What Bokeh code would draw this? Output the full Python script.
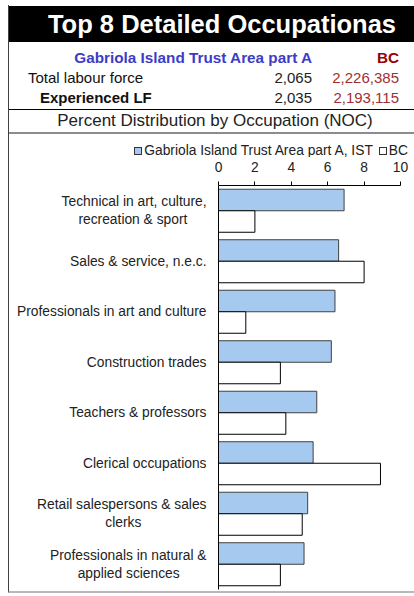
from bokeh.plotting import figure
from bokeh.models import Range1d, FactorRange, FixedTicker, ColumnDataSource, Div
from bokeh.transform import dodge
from bokeh.layouts import column
from bokeh.embed import file_html
from bokeh.resources import INLINE

# ---------------- data ----------------
title = "Top 8 Detailed Occupationas"
area_name = "Gabriola Island Trust Area part A"
bc_name = "BC"
row_labels = ["Total labour force", "Experienced LF"]
area_counts = ["2,065", "2,035"]
bc_counts = ["2,226,385", "2,193,115"]
subtitle = "Percent Distribution by Occupation (NOC)"

NB = "\u00a0"
categories = [
    "Technical in art, culture,\nrecreation & sport" + NB * 5,
    "Sales & service, n.e.c.",
    "Professionals in art and culture",
    "Construction trades",
    "Teachers & professors",
    "Clerical occupations",
    "Retail salespersons & sales\nclerks" + NB * 17,
    "Professionals in natural &\napplied sciences" + NB * 7,
]
ist_pct = [6.9, 6.6, 6.4, 6.2, 5.4, 5.2, 4.9, 4.7]
bc_pct = [2.0, 8.0, 1.5, 3.4, 3.7, 8.9, 4.6, 3.4]
x_ticks = [0, 2, 4, 6, 8, 10]
legend_labels = ["Gabriola Island Trust Area part A, IST", "BC"]
IST_COLOR = "#a6c9f0"

FNAME = "Liberation Sans"
W = 405
HH = 152
OVERLAP = 6
CH = 440
LBL = "13.8px"


# ---------------- header (HTML text) ----------------
def ab(css, txt=""):
    return f'<div style="position:absolute;white-space:nowrap;{css}">{txt}</div>'


def sq(color, extra):
    return (f'<span style="display:inline-block;width:8px;height:8px;box-sizing:border-box;'
            f'border:1px solid #333;background:{color};{extra}"></span>')


rows_html = ""
for i, (lab, a, b) in enumerate(zip(row_labels, area_counts, bc_counts)):
    top = 63 + 19.5 * i
    left = 19 if i == 0 else 31
    weight = "normal" if i == 0 else "bold"
    rows_html += ab(f"left:{left}px;top:{top}px;height:20px;line-height:20px;font-size:15px;"
                    f"font-weight:{weight};color:#111;", lab)
    rows_html += ab(f"right:102px;top:{top}px;height:20px;line-height:20px;font-size:15px;color:#222;", a)
    rows_html += ab(f"right:15px;top:{top}px;height:20px;line-height:20px;font-size:15px;color:#a03030;", b)

legend_html = ab(
    f"right:6px;top:138px;height:16px;display:flex;align-items:center;font-size:{LBL};color:#222;",
    sq(IST_COLOR, "margin-right:2px;") + f"<span>{legend_labels[0]}</span>"
    + sq("#ffffff", "margin-left:6px;margin-right:2px;") + f"<span>{legend_labels[1]}</span>")

header_html = (
    f'<div style="position:relative;width:{W}px;height:{HH}px;overflow:hidden;'
    f"font-family:'{FNAME}',Arial,sans-serif;\">"
    + ab(f"left:0;top:1px;width:{W}px;height:36px;background:#000;")
    + ab("left:0;top:1px;width:426px;height:36px;line-height:36px;text-align:center;"
         "color:#fff;font-weight:bold;font-size:25.5px;", title)
    + ab("right:102px;top:43px;height:20px;line-height:20px;font-size:15.3px;font-weight:bold;"
         "color:#3c3cc8;", area_name)
    + ab("right:15px;top:43px;height:20px;line-height:20px;font-size:15.3px;font-weight:bold;"
         "color:#990000;", bc_name)
    + rows_html
    + ab(f"left:0;top:104px;width:{W}px;height:1px;background:#000;")
    + ab("left:0;top:105px;width:412px;height:21px;line-height:21px;text-align:center;"
         "font-size:17px;color:#222;", subtitle)
    + ab(f"left:0;top:127px;width:{W}px;height:2px;background:#8c8c8c;")
    + legend_html
    + "</div>"
)
hdr = Div(text=header_html, width=W, height=HH, margin=0)

# ---------------- chart ----------------
src = ColumnDataSource(dict(cat=categories, ist=ist_pct, bc=bc_pct))
p = figure(width=W, height=CH, x_range=Range1d(0, 10),
           y_range=FactorRange(factors=categories[::-1], range_padding=0),
           x_axis_location="above", toolbar_location=None, output_backend="svg",
           min_border_left=209, min_border_right=14, min_border_top=28 + OVERLAP,
           min_border_bottom=2, outline_line_color=None, margin=(-OVERLAP, 0, 0, 0),
           border_fill_alpha=0, background_fill_color="white")
p.grid.visible = False

p.hbar(y=dodge("cat", 0.213, range=p.y_range), left=0, right="ist", height=0.426,
       source=src, fill_color=IST_COLOR, line_color="#404040", line_width=1)
p.hbar(y=dodge("cat", -0.213, range=p.y_range), left=0, right="bc", height=0.426,
       source=src, fill_color="white", line_color="black", line_width=1)

xa = p.xaxis[0]
xa.ticker = FixedTicker(ticks=x_ticks)
xa.major_tick_out = 4
xa.major_tick_in = 0
xa.minor_tick_out = 0
xa.minor_tick_in = 0
xa.major_label_standoff = 10
xa.major_label_text_font = FNAME
xa.major_label_text_font_size = LBL
xa.major_label_text_color = "#222222"
xa.axis_line_color = "black"
xa.major_tick_line_color = "black"

ya = p.yaxis[0]
ya.major_tick_out = 0
ya.major_tick_in = 0
ya.minor_tick_out = 0
ya.major_label_standoff = 12
ya.major_label_text_font = FNAME
ya.major_label_text_font_size = LBL
ya.major_label_text_color = "#222222"
ya.axis_line_color = "black"

layout = column(hdr, p, margin=0,
                styles={"margin-left": "8px", "margin-top": "5px",
                        "border-left": "1px solid #404040",
                        "border-bottom": "2px solid #b8b8b8"})
open("out.html", "w").write(file_html(layout, INLINE))
